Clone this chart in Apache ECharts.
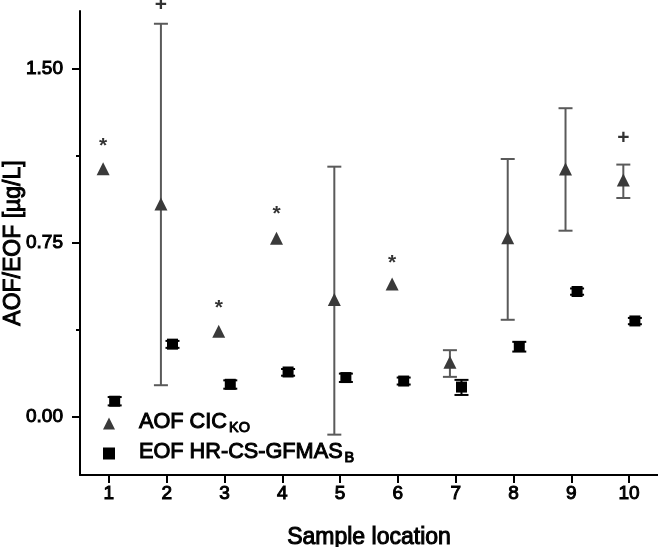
<!DOCTYPE html>
<html>
<head>
<meta charset="utf-8">
<script src="https://cdn.jsdelivr.net/npm/echarts@6/dist/echarts.min.js"></script>
<style>
html,body{margin:0;padding:0;background:#fff;}
#chart{width:658px;height:547px;}
</style>
</head>
<body>
<div id="chart"></div>
<script>
// ---- data ----
const locations = [1, 2, 3, 4, 5, 6, 7, 8, 9, 10];
const xTickLabels = ['1', '2', '3', '4', '5', '6', '7', '8', '9', '10'];
const yTickLabels = [0, 0.75, 1.5];
const yMinorTicks = [0.375, 1.125];

const aofName = 'AOF CIC_KO';
const aofValues = [1.07, 0.918, 0.370, 0.770, 0.507, 0.573, 0.236, 0.773, 1.069, 1.022];
const aofErrLow = [null, 0.137, null, null, -0.076, null, 0.173, 0.419, 0.803, 0.944];
const aofErrHigh = [null, 1.695, null, null, 1.079, null, 0.288, 1.112, 1.331, 1.088];

const eofName = 'EOF HR-CS-GFMAS_B';
const eofValues = [0.068, 0.314, 0.141, 0.194, 0.170, 0.155, 0.129, 0.304, 0.541, 0.414];
const eofErrLow = [0.050, 0.298, 0.122, 0.178, 0.151, 0.140, 0.095, 0.282, 0.527, 0.400];
const eofErrHigh = [0.086, 0.328, 0.158, 0.207, 0.187, 0.170, 0.160, 0.324, 0.554, 0.427];

const annotText = ['*', '+', '*', '*', '', '*', '', '', '', '+'];
const annotY = [1.187, 1.777, 0.489, 0.896, null, 0.684, null, null, null, 1.202];

// ---- build ----
const dodge = 0.1;
const FONT = "'Liberation Sans', Arial, Helvetica, sans-serif";
const HEAVY = { textBorderColor: '#000', textBorderWidth: 1 };

const aofPoints = locations.map((x, i) => [x - dodge, aofValues[i]]);
const eofPoints = locations.map((x, i) => [x + dodge, eofValues[i]]);
const aofErr = locations.map((x, i) => [x - dodge, aofErrLow[i], aofErrHigh[i]]).filter(d => d[1] != null);
const eofErr = locations.map((x, i) => [x + dodge, eofErrLow[i], eofErrHigh[i]]);
const annot = locations.map((x, i) => ({ value: [x - dodge, annotY[i]], text: annotText[i] }))
  .filter(d => d.text !== '')
  .map(d => ({ value: d.value, label: { formatter: d.text, offset: [0, d.text === '*' ? 5 : 0] } }));

function errRender(color, capHalf, width) {
  return function (params, api) {
    const x = api.value(0);
    const lo = api.coord([x, api.value(1)]);
    const hi = api.coord([x, api.value(2)]);
    const st = { stroke: color, lineWidth: width, fill: null };
    return {
      type: 'group',
      children: [
        { type: 'line', shape: { x1: hi[0], y1: hi[1], x2: lo[0], y2: lo[1] }, style: st },
        { type: 'line', shape: { x1: hi[0] - capHalf, y1: hi[1], x2: hi[0] + capHalf, y2: hi[1] }, style: st },
        { type: 'line', shape: { x1: lo[0] - capHalf, y1: lo[1], x2: lo[0] + capHalf, y2: lo[1] }, style: st }
      ]
    };
  };
}

const chart = echarts.init(document.getElementById('chart'), null, { renderer: 'canvas' });
const option = {
  animation: false,
  backgroundColor: '#fff',
  textStyle: { fontFamily: FONT },
  grid: { left: 80, right: 0, top: 11, bottom: 72, containLabel: false, outerBoundsMode: 'none' },
  legend: {
    orient: 'vertical',
    left: 103,
    top: 411,
    itemWidth: 12,
    itemHeight: 12,
    itemGap: 5,
    padding: 0,
    data: [aofName, eofName],
    formatter: function (name) {
      const parts = name.split('_');
      return '{m|' + parts[0] + '}{s|' + parts[1] + '}';
    },
    textStyle: {
      color: '#000',
      fontFamily: FONT,
      rich: {
        m: Object.assign({ fontSize: 21.7, lineHeight: 24, verticalAlign: 'top', color: '#000', fontFamily: FONT, padding: [0, 0, 0, 19] }, HEAVY),
        s: Object.assign({ fontSize: 14.5, lineHeight: 14, verticalAlign: 'bottom', color: '#000', fontFamily: FONT, padding: [0, 0, 0, 2] }, HEAVY)
      }
    }
  },
  xAxis: {
    type: 'value',
    min: 0.5,
    max: 10.5,
    name: 'Sample location',
    nameLocation: 'middle',
    nameGap: 51,
    nameMoveOverlap: false,
    nameTextStyle: Object.assign({ fontSize: 23, color: '#000', fontFamily: FONT }, HEAVY),
    axisLine: { show: true, onZero: false, lineStyle: { color: '#000', width: 2 } },
    axisTick: { show: true, length: 8, lineStyle: { color: '#000', width: 2 }, customValues: locations },
    axisLabel: Object.assign({
      show: true, fontSize: 19, color: '#000', margin: 9, fontFamily: FONT,
      customValues: locations,
      formatter: function (v) { return xTickLabels[locations.indexOf(Math.round(v))] || ''; }
    }, HEAVY),
    splitLine: { show: false }
  },
  yAxis: [
    {
      type: 'value',
      min: -0.25,
      max: 1.75,
      name: 'AOF/EOF [µg/L]',
      nameLocation: 'middle',
      nameGap: 55,
      nameMoveOverlap: false,
      nameTextStyle: Object.assign({ fontSize: 23, color: '#000', fontFamily: FONT }, HEAVY),
      axisLine: { show: true, onZero: false, lineStyle: { color: '#000', width: 2 } },
      axisTick: { show: true, length: 8, lineStyle: { color: '#000', width: 2 }, customValues: yTickLabels },
      axisLabel: Object.assign({
        show: true, fontSize: 19, color: '#000', margin: 17, fontFamily: FONT,
        customValues: yTickLabels,
        formatter: function (v) { return v.toFixed(2); }
      }, HEAVY),
      splitLine: { show: false }
    },
    {
      type: 'value',
      min: -0.25,
      max: 1.75,
      position: 'left',
      offset: 0,
      axisLine: { show: false, onZero: false },
      axisTick: { show: true, length: 4, lineStyle: { color: '#000', width: 2 }, customValues: yMinorTicks },
      axisLabel: { show: false },
      splitLine: { show: false }
    }
  ],
  series: [
    {
      type: 'custom',
      name: 'aofErr',
      renderItem: errRender('#5a5a5a', 7, 2),
      data: aofErr,
      z: 1,
      silent: true
    },
    {
      type: 'custom',
      name: 'eofErr',
      renderItem: errRender('#000', 7, 2),
      data: eofErr,
      z: 1,
      silent: true
    },
    {
      type: 'scatter',
      name: aofName,
      symbol: 'triangle',
      symbolSize: 13,
      itemStyle: { color: '#3a3a3a', opacity: 1 },
      data: aofPoints,
      z: 3
    },
    {
      type: 'scatter',
      name: eofName,
      symbol: 'rect',
      symbolSize: 11,
      itemStyle: { color: '#000', opacity: 1 },
      data: eofPoints,
      z: 3
    },
    {
      type: 'scatter',
      name: 'annot',
      symbolSize: 1,
      clip: false,
      itemStyle: { color: 'rgba(0,0,0,0)' },
      label: {
        show: true, position: 'inside', fontSize: 21, fontWeight: 'bold', color: '#000', fontFamily: FONT
      },
      data: annot,
      z: 4
    }
  ]
};
chart.setOption(option);
</script>
</body>
</html>
